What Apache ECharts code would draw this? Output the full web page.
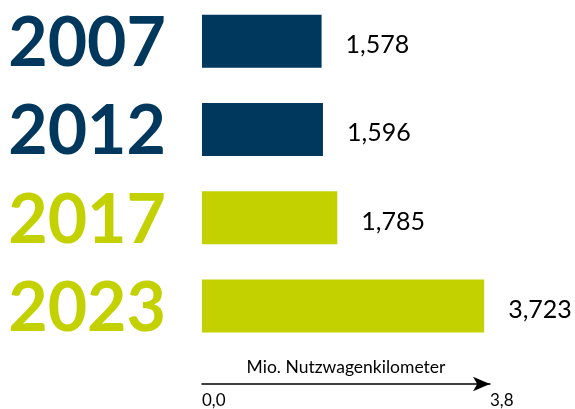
<!DOCTYPE html>
<html>
<head>
<meta charset="utf-8">
<script src="https://cdn.jsdelivr.net/npm/echarts@6/dist/echarts.min.js"></script>
<style>
  html, body { margin: 0; padding: 0; background: #fff; }
  #chart { width: 575px; height: 409px; }
</style>
</head>
<body>
<div id="chart"></div>
<script>
var years = ['2007', '2012', '2017', '2023'];
var values = [1.578, 1.596, 1.785, 3.723];
var yearColors = ['#00375c', '#00375c', '#c3d100', '#c3d100'];
var axisTicks = [0, 3.8];

var chart = echarts.init(document.getElementById('chart'));

var formatDe = function (v, digits) {
    return v.toFixed(digits).replace('.', ',');
};

var yearRich = {};
years.forEach(function (y, i) {
    yearRich['y' + i] = {
        color: yearColors[i],
        fontFamily: 'Lato',
        fontWeight: 'bold',
        fontSize: 68,
        padding: [6, 0, 0, 0]
    };
});

chart.setOption({
    animation: false,
    grid: { left: 202, right: 85, top: -3, height: 353, outerBoundsMode: 'none' },
    xAxis: {
        type: 'value',
        min: axisTicks[0],
        max: axisTicks[1],
        interval: axisTicks[1],
        offset: 34,
        splitLine: { show: false },
        axisTick: { show: false },
        axisLine: {
            show: true,
            symbol: ['none', 'arrow'],
            symbolSize: [11, 17],
            lineStyle: { color: '#000', width: 1.5 }
        },
        axisLabel: {
            align: 'left',
            margin: 8,
            color: '#000',
            fontFamily: 'Lato',
            fontSize: 17,
            formatter: function (v) { return formatDe(v, 1); }
        },
        name: 'Mio. Nutzwagenkilometer',
        nameLocation: 'middle',
        nameGap: -26,
        nameMoveOverlap: false,
        nameTextStyle: { color: '#000', fontFamily: 'Lato', fontSize: 17.5 }
    },
    yAxis: {
        type: 'category',
        data: years,
        inverse: true,
        axisLine: { show: false },
        axisTick: { show: false },
        axisLabel: {
            interval: 0,
            hideOverlap: false,
            margin: 36,
            formatter: function (value) {
                return '{y' + years.indexOf(value) + '|' + value + '}';
            },
            rich: yearRich
        }
    },
    series: [{
        type: 'bar',
        barWidth: 53,
        data: values.map(function (v, i) {
            return { value: v, itemStyle: { color: yearColors[i] } };
        }),
        label: {
            show: true,
            position: 'right',
            distance: 24,
            offset: [0, 4],
            color: '#000',
            fontFamily: 'Lato',
            fontSize: 25,
            formatter: function (p) { return formatDe(p.value, 3); }
        }
    }]
});
</script>
</body>
</html>
